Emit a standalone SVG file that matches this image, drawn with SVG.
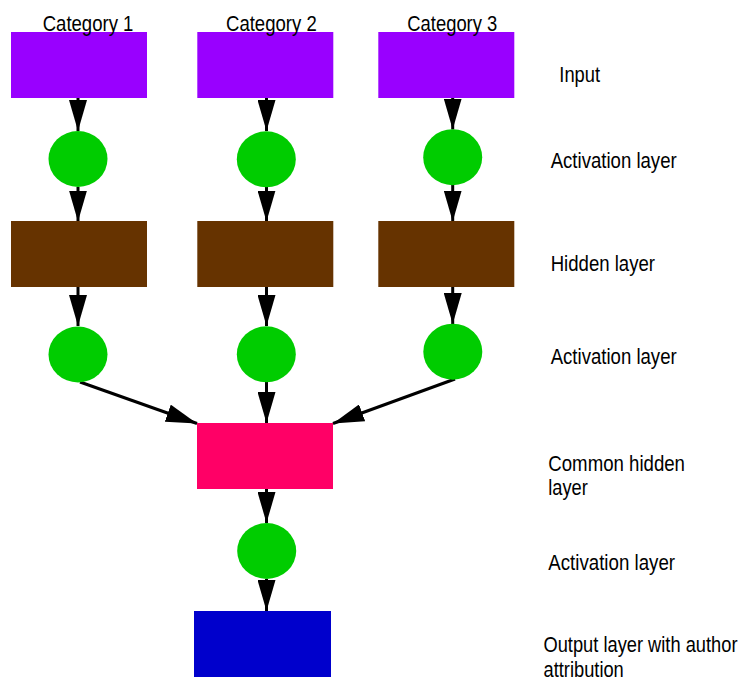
<svg xmlns="http://www.w3.org/2000/svg" width="747" height="684" viewBox="0 0 747 684">
  <defs>
    <style>
      text { font-family: "Liberation Sans", Arial, sans-serif; font-size: 22px; fill: #000; }
      .input { fill: #9900ff; }
      .act { fill: #00cc00; }
      .hidden { fill: #663300; }
      .common { fill: #ff0066; }
      .output { fill: #0000cc; }
      .edge { stroke: #000; stroke-width: 3; fill: none; marker-end: url(#head); }
    </style>
    <marker id="head" markerUnits="userSpaceOnUse" markerWidth="32" markerHeight="18" refX="31" refY="9" orient="auto" viewBox="0 0 32 18">
      <path d="M0,0 L31,9 L0,18 z" fill="#000"/>
    </marker>
  </defs>
  <rect width="747" height="684" fill="#fff"/>

  <!-- connectors -->
  <g id="connectors">
    <line class="edge" x1="78" y1="97" x2="78" y2="131"/>
    <line class="edge" x1="78" y1="187" x2="78" y2="221.5"/>
    <line class="edge" x1="78" y1="287" x2="78" y2="326"/>
    <line class="edge" x1="80" y1="382" x2="197" y2="423.5"/>

    <line class="edge" x1="266.5" y1="97" x2="266.5" y2="131"/>
    <line class="edge" x1="266.5" y1="187" x2="266.5" y2="221.5"/>
    <line class="edge" x1="266.5" y1="287" x2="266.5" y2="326"/>
    <line class="edge" x1="266.5" y1="382" x2="266.5" y2="423"/>

    <line class="edge" x1="452.7" y1="97" x2="452.7" y2="129.5"/>
    <line class="edge" x1="452.7" y1="185" x2="452.7" y2="221.5"/>
    <line class="edge" x1="452.7" y1="287" x2="452.7" y2="324"/>
    <line class="edge" x1="455" y1="379" x2="333" y2="423.5"/>

    <line class="edge" x1="266.5" y1="489" x2="266.5" y2="523"/>
    <line class="edge" x1="266.5" y1="579" x2="266.5" y2="611"/>
  </g>

  <!-- category inputs -->
  <g id="input1"><rect class="input" x="11" y="32" width="136" height="66"/><text x="42.7" y="30.5" textLength="90.7" lengthAdjust="spacingAndGlyphs">Category 1</text></g>
  <g id="input2"><rect class="input" x="197.3" y="32" width="136" height="66"/><text x="226" y="30.5" textLength="90.7" lengthAdjust="spacingAndGlyphs">Category 2</text></g>
  <g id="input3"><rect class="input" x="378.3" y="32" width="136" height="66"/><text x="407.3" y="30.5" textLength="90" lengthAdjust="spacingAndGlyphs">Category 3</text></g>

  <!-- first activation row -->
  <g id="act1a"><ellipse class="act" cx="78" cy="159" rx="29.5" ry="28"/></g>
  <g id="act2a"><ellipse class="act" cx="266.3" cy="159.3" rx="29.5" ry="28"/></g>
  <g id="act3a"><ellipse class="act" cx="452.7" cy="157.2" rx="29.5" ry="28"/></g>

  <!-- hidden layers -->
  <g id="hidden1"><rect class="hidden" x="11" y="221" width="136" height="66"/></g>
  <g id="hidden2"><rect class="hidden" x="197.3" y="221" width="136" height="66"/></g>
  <g id="hidden3"><rect class="hidden" x="378.3" y="221" width="136" height="66"/></g>

  <!-- second activation row -->
  <g id="act1b"><ellipse class="act" cx="78" cy="354.5" rx="29.5" ry="28"/></g>
  <g id="act2b"><ellipse class="act" cx="266.3" cy="354.3" rx="29.5" ry="28"/></g>
  <g id="act3b"><ellipse class="act" cx="452.8" cy="351.7" rx="29.5" ry="28"/></g>

  <!-- shared part -->
  <g id="common"><rect class="common" x="197" y="423" width="136" height="66"/></g>
  <g id="act4"><ellipse class="act" cx="266.7" cy="551" rx="29.5" ry="28"/></g>
  <g id="output"><rect class="output" x="194" y="611" width="137" height="66"/></g>

  <!-- layer captions -->
  <g id="captions">
    <text x="559.3" y="82" textLength="40.7" lengthAdjust="spacingAndGlyphs">Input</text>
    <text x="550.7" y="168" textLength="126" lengthAdjust="spacingAndGlyphs">Activation layer</text>
    <text x="550.7" y="270.7" textLength="104.3" lengthAdjust="spacingAndGlyphs">Hidden layer</text>
    <text x="550.7" y="364" textLength="126" lengthAdjust="spacingAndGlyphs">Activation layer</text>
    <text x="548.3" y="470.7" textLength="136.7" lengthAdjust="spacingAndGlyphs">Common hidden</text>
    <text x="548.3" y="495" textLength="39.5" lengthAdjust="spacingAndGlyphs">layer</text>
    <text x="548.3" y="570" textLength="126.7" lengthAdjust="spacingAndGlyphs">Activation layer</text>
    <text x="543.5" y="652" textLength="194" lengthAdjust="spacingAndGlyphs">Output layer with author</text>
    <text x="543.5" y="677.3" textLength="80.3" lengthAdjust="spacingAndGlyphs">attribution</text>
  </g>
</svg>
